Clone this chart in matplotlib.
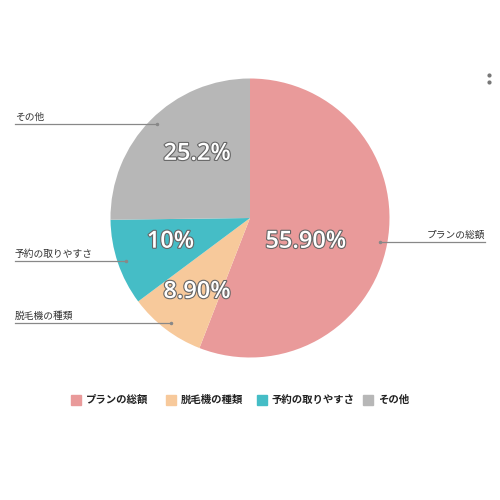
import numpy as np
import matplotlib
matplotlib.use('Agg')
import matplotlib.pyplot as plt
import matplotlib.patheffects as pe
from matplotlib.patches import Rectangle

plt.rcParams['font.family'] = ['Noto Sans CJK JP', 'DejaVu Sans']

labels = ['プランの総額', '脱毛機の種類', '予約の取りやすさ', 'その他']
values = [55.9, 8.9, 10.0, 25.2]
pct_text = ['55.90%', '8.90%', '10%', '25.2%']
colors = ['#E99A9A', '#F7C99B', '#45BDC6', '#B7B7B7']

fig = plt.figure(figsize=(5, 5), dpi=100)
cx, cy, r = 250, 218, 139.5
ax = fig.add_axes([(cx - r) / 500, (500 - cy - r) / 500, 2 * r / 500, 2 * r / 500])
wedges, _ = ax.pie(values, colors=colors, startangle=90, counterclock=False,
                   radius=1, wedgeprops=dict(linewidth=0))
ax.set_xlim(-1, 1)
ax.set_ylim(-1, 1)
ax.set_aspect('equal')
ax.axis('off')

# percent labels inside the slices
pct_pos = [(0.40, -0.17), (-0.38, -0.53), (-0.57, -0.17), (-0.38, 0.46)]
for t, (x, y) in zip(pct_text, pct_pos):
    ax.text(x, y, t, ha='center', va='center', fontsize=17, fontweight='semibold',
            color='white', family=['Open Sans', 'DejaVu Sans'],
            path_effects=[pe.withStroke(linewidth=1.6, foreground='#666666')])

# leader lines with outside labels (pixel layout)
ends = [(380, 242), (171, 323), (126, 261), (157, 124)]
line_x = [485, 15, 15, 15]
for lab, (ex, ey), lx in zip(labels, ends, line_x):
    fy = 1 - ey / 500
    fig.add_artist(plt.Line2D([ex / 500, lx / 500], [fy, fy], color='#888888', lw=0.9))
    fig.add_artist(plt.Line2D([ex / 500], [fy], marker='o', ms=1.5, color='#888888'))
    ha = 'right' if lx > 250 else 'left'
    fig.text(lx / 500, fy + 0.004, lab, ha=ha, va='bottom', fontsize=7, color='#333333')

# legend
leg_x = [76, 171, 262, 368]
for lab, c, x in zip(labels, colors, leg_x):
    fig.add_artist(Rectangle(((x - 5) / 500, 1 - 405 / 500), 10 / 500, 10 / 500,
                             transform=fig.transFigure, color=c))
    fig.text((x + 10) / 500, 1 - 400 / 500, lab, ha='left', va='center',
             fontsize=7.5, color='#222222', fontweight='bold')

# menu dots
for y in [75, 82]:
    fig.add_artist(plt.Line2D([489 / 500], [1 - y / 500], marker='o', ms=2, color='#777777'))

fig.savefig('out.png', dpi=100)
